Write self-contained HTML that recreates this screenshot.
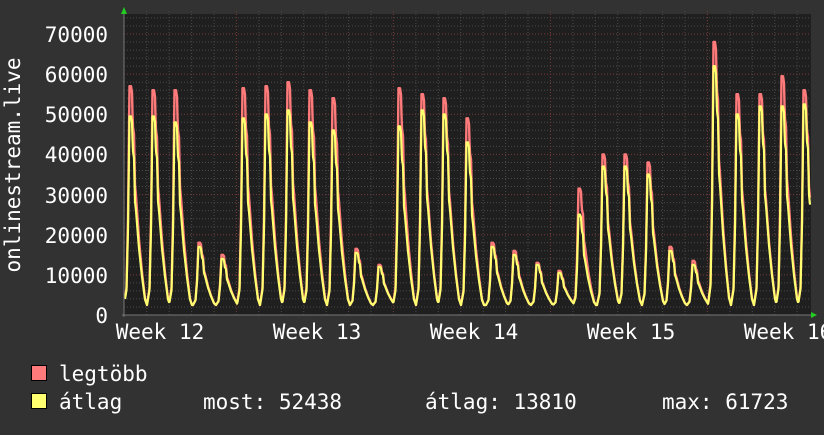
<!DOCTYPE html>
<html><head><meta charset="utf-8"><style>
body{margin:0;background:#323232;width:824px;height:430px;overflow:hidden}
svg text{font-family:"DejaVu Sans Mono","Liberation Mono",monospace;font-size:21px;fill:#fff}
</style></head><body>
<svg id="s" width="824" height="430" xmlns="http://www.w3.org/2000/svg">
<rect x="124" y="14" width="687" height="301" fill="#1f1f1f"/>
<g id="grid"></g>
<polyline id="red" fill="none" stroke="#ff7a7a" stroke-width="2.4" stroke-linejoin="round"/>
<polyline id="yel" fill="none" stroke="#ffff70" stroke-width="2.2" stroke-linejoin="round"/>
<line x1="122" y1="315" x2="812" y2="315" stroke="#777" stroke-width="1"/>
<line x1="124" y1="12" x2="124" y2="317" stroke="#777" stroke-width="1"/>
<polygon points="121,14 127,14 124,7" fill="#2c2"/>
<polygon points="811,312 811,318 817,315" fill="#2c2"/>
<g text-anchor="end">
<text x="108" y="42">70000</text><text x="108" y="82">60000</text><text x="108" y="122">50000</text>
<text x="108" y="162">40000</text><text x="108" y="203">30000</text><text x="108" y="243">20000</text>
<text x="108" y="283">10000</text><text x="108" y="323">0</text>
</g>
<text transform="translate(20,165) rotate(-90)" text-anchor="middle">onlinestream.live</text>
<g text-anchor="middle">
<text x="160" y="339">Week 12</text><text x="317" y="339">Week 13</text><text x="474" y="339">Week 14</text>
<text x="631" y="339">Week 15</text><text x="788" y="339">Week 16</text>
</g>
<rect x="31.5" y="365.5" width="15" height="15" fill="#ff7a7a" stroke="#000"/>
<rect x="31.5" y="393.5" width="15" height="15" fill="#ffff70" stroke="#000"/>
<text x="59" y="381">legtöbb</text>
<text x="59" y="409">átlag</text>
<text x="203" y="409">most: 52438</text>
<text x="425" y="409">átlag: 13810</text>
<text x="662" y="409">max: 61723</text>
</svg>
<script>
var g=document.getElementById('grid'),h='';
function Y(v){return 315-v*281/70000;}
for(var v=2000;v<=74000;v+=2000){var y=Y(v).toFixed(1);var maj=v%10000==0;
h+='<line x1="124" x2="811" y1="'+y+'" y2="'+y+'" stroke="'+(maj?'#7a3a3a':'#4a4a4a')+'" stroke-dasharray="1,2"/>';}
for(var x=146.7;x<811;x+=22.43){var maj=Math.abs(((x-236.7)/157)-Math.round((x-236.7)/157))<0.02;
h+='<line y1="11" y2="317" x1="'+x.toFixed(1)+'" x2="'+x.toFixed(1)+'" stroke="'+(maj?'#7a3a3a':'#4a4a4a')+'" stroke-dasharray="1,2"/>';}
g.innerHTML=h;
var px=[131,154,176,200,223,244,267,289,311,334,357,380,400,423,445,468,493,515,538,560,580,604,626,649,671,694,715,738,761,783,805];
var rp=[57000,56000,56000,18000,15000,56500,57000,58000,56000,54000,16500,12500,56500,55000,54000,49000,18000,16000,13000,11000,31500,40000,40000,38000,17000,13500,68000,55000,55000,59500,56000];
var yp=[49500,49500,48000,17000,14000,49000,50000,51000,48000,46000,15500,12000,47000,51000,50000,43000,17000,15000,12500,10500,25000,37000,37000,35000,16000,12500,62000,50000,52000,52000,52500];
var SD=[-7,-4.5,-3,-1.5,0,1,1.8,3,4,5,8,11,14,16];
var SV=[0,0.08,0.4,1,1,0.97,0.82,0.78,0.55,0.5,0.3,0.15,0.03,0];
function shape(d){if(d<=SD[0]||d>=SD[SD.length-1])return 0;
 for(var i=1;i<SD.length;i++)if(d<=SD[i]){var t=(d-SD[i-1])/(SD[i]-SD[i-1]);return SV[i-1]+t*(SV[i]-SV[i-1]);}return 0;}
function f(x,P){var best=2500;for(var i=0;i<px.length;i++){var d=x-px[i];
 best=Math.max(best,2500+(P[i]-2500)*shape(d));}return best;}
function pts(P){var s=[];for(var x=125;x<=810;x+=0.5){s.push(x+','+Y(f(x,P)).toFixed(1));}return s.join(' ');}
document.getElementById('red').setAttribute('points',pts(rp));
document.getElementById('yel').setAttribute('points',pts(yp));
</script>
</body></html>
